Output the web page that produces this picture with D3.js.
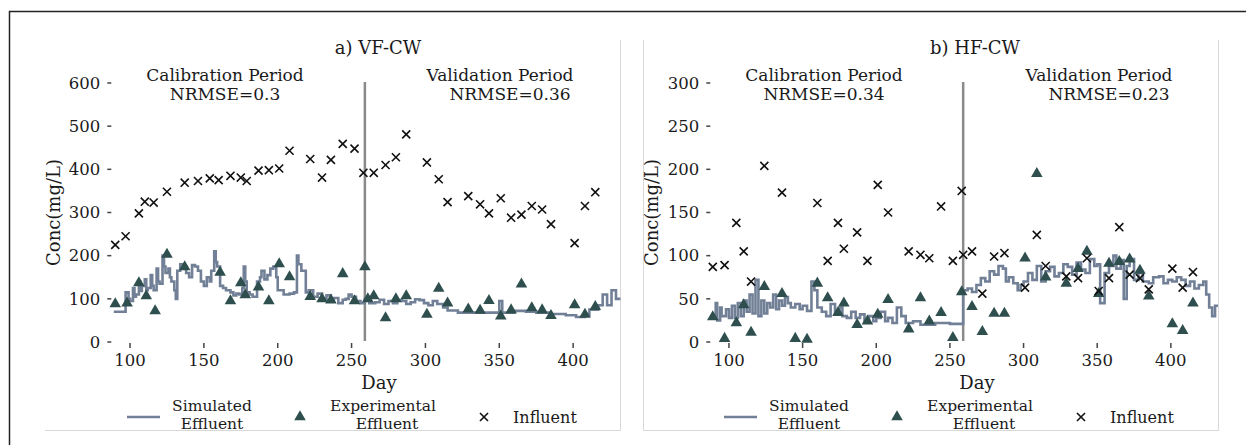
<!DOCTYPE html>
<html>
<head>
<meta charset="utf-8">
<script src="https://cdnjs.cloudflare.com/ajax/libs/d3/7.8.5/d3.min.js"></script>
<style>
  body { margin: 0; background: #fff; }
  svg { display: block; }
  text { font-family: "DejaVu Serif", serif; fill: #1a1a1a; }
</style>
</head>
<body>
<div id="chart"></div>
<script>
// ---- data ----
const vfSimDays = [89,97,99,100,102,103,104,106,107,108,110,111,112,114,115,116,118,119,120,122,123,124,126,127,128,130,131,132,134,136,138,140,142,144,146,148,150,152,154,155,157,158,159,161,163,165,168,170,172,174,176,177,178,179,181,183,186,188,189,191,193,195,197,199,200,204,208,211,213,214,216,219,221,224,227,230,233,236,238,241,244,246,248,250,253,256,259,262,266,269,272,275,278,281,284,287,290,293,296,299,302,305,308,312,315,322,350,352,360,368,375,385,395,402,408,411,417,420,423,426,429];
const vfSimVals = [70,115,100,95,125,105,110,140,118,130,145,120,125,155,130,120,170,140,135,200,175,160,170,150,140,120,100,165,180,175,160,150,178,175,165,140,130,150,140,165,210,185,175,130,125,120,115,108,112,110,125,175,140,115,110,105,140,150,165,145,155,170,175,150,120,110,112,115,200,180,165,115,120,105,112,100,108,95,102,90,98,100,110,105,95,90,100,90,92,98,88,95,90,97,95,88,92,99,97,90,85,95,88,80,73,68,95,68,72,70,68,65,62,58,62,75,85,110,85,120,100];

const vfExpDays = [90,98,106,111,117,125,137,161,168,175,178,187,194,201,208,222,230,236,244,252,259,261,265,273,280,287,301,309,315,329,337,343,351,358,365,372,379,385,401,408,415];
const vfExpVals = [88,90,137,107,72,203,174,161,95,137,109,127,95,181,151,105,100,97,158,95,174,100,107,56,100,107,64,124,90,76,73,96,60,74,134,79,74,61,86,64,82];

const vfInfDays = [90,97,106,110,116,125,137,146,154,160,168,175,179,187,194,201,208,222,230,236,244,252,258,265,273,280,287,301,309,315,329,337,343,351,358,365,372,379,385,401,408,415];
const vfInfVals = [225,245,298,325,323,348,369,373,379,375,385,381,373,397,398,402,443,424,381,422,459,448,392,392,410,428,481,416,377,324,338,319,298,333,288,295,315,307,273,229,315,347];

const hfSimDays = [89,91,92,94,95,98,100,102,104,106,108,110,112,114,116,118,120,122,124,126,128,130,132,134,136,138,140,142,145,148,150,153,156,158,160,163,166,169,172,175,177,180,183,186,189,192,195,198,200,203,206,208,211,214,217,220,225,230,240,250,259,262,265,268,271,274,277,280,283,286,288,290,293,296,298,300,303,306,309,312,315,318,321,324,327,330,333,336,339,342,345,348,350,352,355,358,361,363,366,368,370,372,375,378,381,385,388,392,395,398,401,404,407,410,413,416,419,422,424,426,428,430];
const hfSimVals = [29,45,25,40,30,38,28,42,28,45,30,48,35,55,33,72,30,48,33,45,40,55,38,48,42,52,45,40,44,38,42,36,70,60,40,35,30,44,32,40,30,28,35,28,32,25,30,24,28,35,24,28,22,40,30,22,24,20,22,21,60,62,58,66,74,70,82,78,88,85,70,75,68,60,66,70,80,72,88,70,82,87,76,80,90,87,78,92,84,80,96,88,90,45,80,88,100,85,95,50,88,96,72,80,70,68,75,76,68,72,70,75,72,65,70,62,66,70,55,40,30,42];

const hfExpDays = [89,97,105,110,115,124,136,145,153,160,167,174,178,187,194,201,208,222,230,236,244,252,258,265,272,280,287,301,309,315,329,337,343,351,358,365,372,379,385,401,408,415];
const hfExpVals = [29,4,22,43,11,64,56,4,3,68,51,34,45,20,24,32,49,15,51,24,34,5,58,41,12,33,33,97,195,75,68,85,105,56,91,93,96,83,53,21,13,45];

const hfInfDays = [89,97,105,110,115,124,136,160,167,174,178,187,194,201,208,222,230,236,244,252,258,259,265,272,280,287,301,309,315,329,337,343,351,358,365,372,379,385,401,408,415];
const hfInfVals = [87,89,138,105,70,204,173,161,94,138,108,127,94,182,150,105,101,97,157,94,175,101,105,56,99,103,63,124,88,76,74,97,59,74,133,78,74,61,85,63,81];

const xTicks = [100, 150, 200, 250, 300, 350, 400];
const vfYTicks = [0, 100, 200, 300, 400, 500, 600];
const hfYTicks = [0, 50, 100, 150, 200, 250, 300];
const splitDay = 259;
const dayRange = [88, 432];
const nrmse = { vf: ['0.3', '0.36'], hf: ['0.34', '0.23'] };

const simColor = '#718096';
const expColor = '#2f4f4f';

const W = 1246, H = 445;
const svg = d3.select('#chart').append('svg')
  .attr('width', W).attr('height', H);

// outer figure border (cut at the right and bottom)
svg.append('path')
  .attr('d', `M9.5,${H + 2}V11.5H${W + 2}`)
  .attr('fill', 'none').attr('stroke', '#222').attr('stroke-width', 1.5);

function panel(opt) {
  const g = svg.append('g');

  // light panel frame
  g.append('path')
    .attr('d', opt.frame)
    .attr('fill', 'none').attr('stroke', '#d8d8d8').attr('stroke-width', 1);

  const x = d3.scaleLinear().domain(dayRange).range([opt.x0, opt.x1]);
  const y = d3.scaleLinear().domain([0, opt.yMax]).range([342, 83]);

  // y ticks
  const yt = g.append('g');
  yt.selectAll('line').data(opt.yTicks).join('line')
    .attr('x1', opt.x0 - 5).attr('x2', opt.x0 - 1)
    .attr('y1', d => y(d)).attr('y2', d => y(d))
    .attr('stroke', '#444').attr('stroke-width', 1.5);
  yt.selectAll('text').data(opt.yTicks).join('text')
    .attr('x', opt.x0 - 12).attr('y', d => y(d))
    .attr('dy', '0.35em').attr('text-anchor', 'end')
    .style('font-size', '16.5px').text(d => d);

  // x ticks
  const xt = g.append('g');
  xt.selectAll('line').data(xTicks).join('line')
    .attr('x1', d => x(d)).attr('x2', d => x(d))
    .attr('y1', 343).attr('y2', 348)
    .attr('stroke', '#444').attr('stroke-width', 1.5);
  xt.selectAll('text').data(xTicks).join('text')
    .attr('x', d => x(d)).attr('y', 360)
    .attr('dy', '0.35em').attr('text-anchor', 'middle')
    .style('font-size', '16.5px').text(d => d);

  // axis labels
  g.append('text')
    .attr('transform', `translate(${opt.yLabelX},${y(opt.yMax / 2)}) rotate(-90)`)
    .attr('dy', '0.35em').attr('text-anchor', 'middle')
    .style('font-size', '18px').text('Conc(mg/L)');
  g.append('text')
    .attr('x', opt.dayX).attr('y', 383).attr('dy', '0.35em')
    .attr('text-anchor', 'middle').style('font-size', '18px').text('Day');

  // title
  g.append('text')
    .attr('x', opt.titleX).attr('y', 48).attr('dy', '0.35em')
    .attr('text-anchor', 'middle').style('font-size', '18px').text(opt.title);

  // period annotations
  const notes = [
    ['Calibration Period', opt.calX, 0], ['NRMSE=' + opt.nrmse[0], opt.calX, 1],
    ['Validation Period', opt.valX, 0], ['NRMSE=' + opt.nrmse[1], opt.valX + 10, 1]
  ];
  g.selectAll('.note').data(notes).join('text')
    .attr('class', 'note')
    .attr('x', d => d[1]).attr('y', d => 75 + d[2] * 19).attr('dy', '0.35em')
    .attr('text-anchor', 'middle').style('font-size', '17px').text(d => d[0]);

  // split line
  g.append('line')
    .attr('x1', x(splitDay)).attr('x2', x(splitDay))
    .attr('y1', 82).attr('y2', 341)
    .attr('stroke', '#8a8a8a').attr('stroke-width', 2.5);

  // simulated effluent
  const sim = opt.simDays.map((d, i) => [d, opt.simVals[i]]);
  sim.push([dayRange[1], opt.simVals[opt.simVals.length - 1]]);
  g.append('path')
    .datum(sim)
    .attr('fill', 'none').attr('stroke', simColor).attr('stroke-width', 2.6)
    .attr('d', d3.line().x(d => x(d[0])).y(d => y(d[1])).curve(d3.curveStepAfter));

  // experimental effluent
  const tri = d3.symbol().type(d3.symbolTriangle).size(58);
  g.selectAll('.exp').data(opt.expDays.map((d, i) => [d, opt.expVals[i]])).join('path')
    .attr('class', 'exp')
    .attr('transform', d => `translate(${x(d[0])},${y(d[1])})`)
    .attr('d', tri).attr('fill', expColor);

  // influent
  const cross = d3.symbol().type(d3.symbolX).size(44);
  g.selectAll('.inf').data(opt.infDays.map((d, i) => [d, opt.infVals[i]])).join('path')
    .attr('class', 'inf')
    .attr('transform', d => `translate(${x(d[0])},${y(d[1])})`)
    .attr('d', cross).attr('fill', 'none').attr('stroke', '#111').attr('stroke-width', 1.6);

  // legend
  const lg = g.append('g').attr('transform', `translate(${opt.legX},417)`);
  lg.append('line').attr('x1', 0).attr('x2', 33).attr('y1', 0).attr('y2', 0)
    .attr('stroke', simColor).attr('stroke-width', 2.6);
  lg.append('text').attr('x', 85).attr('y', -11).attr('dy', '0.35em')
    .attr('text-anchor', 'middle').style('font-size', '15.5px').text('Simulated');
  lg.append('text').attr('x', 85).attr('y', 6.5).attr('dy', '0.35em')
    .attr('text-anchor', 'middle').style('font-size', '15.5px').text('Effluent');
  lg.append('path').attr('transform', 'translate(173,0)').attr('d', tri).attr('fill', expColor);
  lg.append('text').attr('x', 256).attr('y', -11).attr('dy', '0.35em')
    .attr('text-anchor', 'middle').style('font-size', '15.5px').text('Experimental');
  lg.append('text').attr('x', 260).attr('y', 6.5).attr('dy', '0.35em')
    .attr('text-anchor', 'middle').style('font-size', '15.5px').text('Effluent');
  lg.append('path').attr('transform', 'translate(357,0)').attr('d', cross)
    .attr('fill', 'none').attr('stroke', '#111').attr('stroke-width', 1.6);
  lg.append('text').attr('x', 386).attr('y', 0).attr('dy', '0.35em')
    .style('font-size', '16px').text('Influent');
}

panel({
  frame: 'M45,430.5H620.5V40', x0: 112.3, x1: 620.4, yMax: 600, yTicks: vfYTicks,
  yLabelX: 54, dayX: 379, titleX: 378, title: 'a) VF-CW',
  calX: 225, valX: 500, nrmse: nrmse.vf, legX: 127,
  simDays: vfSimDays, simVals: vfSimVals, expDays: vfExpDays, expVals: vfExpVals,
  infDays: vfInfDays, infVals: vfInfVals
});

panel({
  frame: 'M643.5,40V430.5H1218.5V40', x0: 711.3, x1: 1218, yMax: 300, yTicks: hfYTicks,
  yLabelX: 652, dayX: 977, titleX: 975, title: 'b) HF-CW',
  calX: 824, valX: 1099, nrmse: nrmse.hf, legX: 724,
  simDays: hfSimDays, simVals: hfSimVals, expDays: hfExpDays, expVals: hfExpVals,
  infDays: hfInfDays, infVals: hfInfVals
});
</script>
</body>
</html>
